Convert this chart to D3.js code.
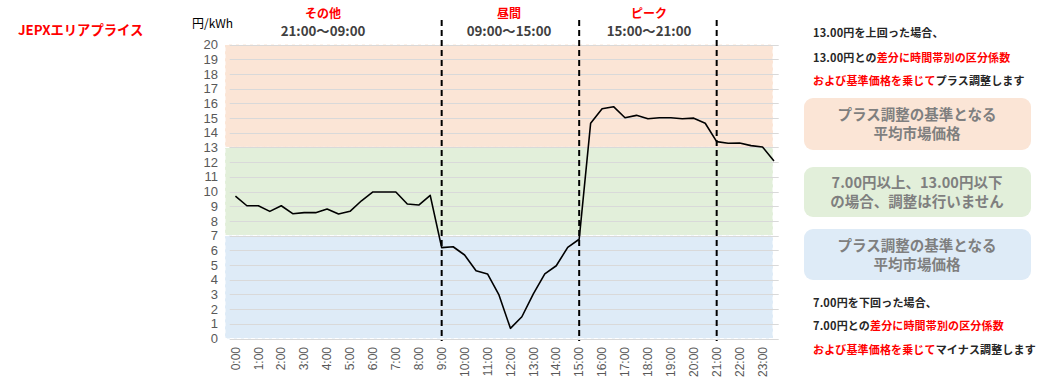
<!DOCTYPE html>
<html><head><meta charset="utf-8">
<script src="https://cdn.jsdelivr.net/npm/d3@7"></script>
<style>
html,body{margin:0;padding:0;background:#fff;}
svg{display:block;}
</style></head>
<body>
<svg id="c" width="1040" height="391"></svg>
<script>
// ---- data ----
const hourLabels = ["0:00","1:00","2:00","3:00","4:00","5:00","6:00","7:00","8:00","9:00","10:00","11:00",
  "12:00","13:00","14:00","15:00","16:00","17:00","18:00","19:00","20:00","21:00","22:00","23:00"];
const slots = hourLabels.flatMap(h => [h, h.replace(":00", ":30")]);
const prices = [9.69, 9.03, 9.03, 8.65, 9.03, 8.49, 8.56, 8.56, 8.81, 8.47, 8.65, 9.37,
  9.97, 9.97, 9.97, 9.15, 9.08, 9.74, 6.18, 6.24, 5.68, 4.61, 4.39, 2.96,
  0.69, 1.48, 3.03, 4.39, 4.95, 6.20, 6.75, 14.64, 15.63, 15.77, 15.02, 15.18,
  14.95, 15.02, 15.02, 14.95, 14.99, 14.64, 13.39, 13.28, 13.30, 13.12, 13.03, 12.07];
const yTickLabels = [0,1,2,3,4,5,6,7,8,9,10,11,12,13,14,15,16,17,18,19,20];
const zoneBounds = [[13, 20], [7, 13], [0, 7]];
const zoneColors = ["#FBE5D6", "#E2EFDA", "#DEEBF7"];
const periodBreaks = ["9:00", "15:00", "21:00"];
const periodNames = ["その他", "昼間", "ピーク"];
const periodTimes = ["21:00〜09:00", "09:00〜15:00", "15:00〜21:00"];
const periodCenters = [323, 509, 649];

// ---- layout ----
const svg = d3.select("#c");
const jp = "'Noto Sans CJK JP', 'Noto Sans', sans-serif";
const lat = "'Liberation Sans', Arial, sans-serif";

const x = d3.scaleBand().domain(slots).range([229.7, 779.7]).paddingInner(0).paddingOuter(0);
const xc = s => x(s) + x.bandwidth() / 2;
const y = d3.scaleLinear().domain([0, 20]).range([338.5, 44.5]);

// zone bands
const bandL = 225, bandR = 773;
svg.append("g").selectAll("rect").data(zoneBounds).join("rect")
  .attr("x", bandL).attr("width", bandR - bandL)
  .attr("y", d => y(d[1])).attr("height", d => y(d[0]) - y(d[1]))
  .attr("fill", (d, i) => zoneColors[i])
  .attr("stroke", "#fff").attr("stroke-width", 1).attr("stroke-dasharray", "4,3");

// gridlines
svg.append("g").selectAll("line").data(yTickLabels).join("line")
  .attr("x1", x.range()[0]).attr("x2", x.range()[1] - 1)
  .attr("y1", d => Math.round(y(d)) + 0.5).attr("y2", d => Math.round(y(d)) + 0.5)
  .attr("stroke", "#D9D9D9").attr("stroke-width", 1.2);

// y axis
const yAxis = d3.axisLeft(y).tickValues(yTickLabels).tickSize(0).tickPadding(0).tickFormat(d3.format("d"));
const gy = svg.append("g").attr("transform", "translate(218,0)").call(yAxis);
gy.select(".domain").remove();
gy.selectAll("text").attr("font-family", lat).attr("font-size", 13).attr("fill", "#595959");

// x axis
const xAxis = d3.axisBottom(x).tickValues(hourLabels).tickSize(0).tickPadding(0);
const gx = svg.append("g").attr("transform", "translate(0,346)").call(xAxis);
gx.select(".domain").remove();
gx.selectAll("text")
  .attr("font-family", lat).attr("font-size", 12).attr("fill", "#595959")
  .attr("transform", "rotate(-90)").attr("text-anchor", "end")
  .attr("x", -1).attr("y", 0).attr("dy", "0.35em");

// period dashed lines
svg.append("g").selectAll("line").data(periodBreaks).join("line")
  .attr("x1", d => xc(d)).attr("x2", d => xc(d))
  .attr("y1", 20).attr("y2", 341)
  .attr("stroke", "#000").attr("stroke-width", 2).attr("stroke-dasharray", "6,4");

// price line
const line = d3.line().x((d, i) => xc(slots[i])).y(d => y(d));
svg.append("path").datum(prices).attr("d", line)
  .attr("fill", "none").attr("stroke", "#000").attr("stroke-width", 1.6).attr("stroke-linejoin", "round");

// title & unit
svg.append("text").attr("x", 18).attr("y", 35).text("JEPXエリアプライス")
  .attr("font-family", jp).attr("font-weight", 700).attr("font-size", 13.3).attr("fill", "#FF0000");
svg.append("text").attr("x", 192).attr("y", 28).text("円/kWh")
  .attr("font-family", jp).attr("font-size", 12).attr("fill", "#000");

// period labels
const pg = svg.append("g").selectAll("g").data(periodNames).join("g");
pg.append("text").attr("x", (d, i) => periodCenters[i]).attr("y", 17.5).text(d => d)
  .attr("text-anchor", "middle").attr("font-family", jp).attr("font-weight", 700)
  .attr("font-size", 12).attr("fill", "#FF0000");
pg.append("text").attr("x", (d, i) => periodCenters[i]).attr("y", 36.3).text((d, i) => periodTimes[i])
  .attr("text-anchor", "middle").attr("font-family", jp).attr("font-weight", 700)
  .attr("font-size", 13.3).attr("fill", "#404040");

// right panel
const dark = "#262626", red = "#FF0000";
function richLine(yy, parts) {
  const t = svg.append("text").attr("x", 813).attr("y", yy)
    .attr("font-family", jp).attr("font-weight", 700).attr("font-size", 11)
    .attr("letter-spacing", "0.15px");
  parts.forEach(p => t.append("tspan").text(p[0]).attr("fill", p[1]));
}
richLine(37, [["13.00円を上回った場合、", dark]]);
richLine(62, [["13.00円との", dark], ["差分に時間帯別の区分係数", red]]);
richLine(85, [["および基準価格を乗じて", red], ["プラス調整します", dark]]);
richLine(307, [["7.00円を下回った場合、", dark]]);
richLine(330, [["7.00円との", dark], ["差分に時間帯別の区分係数", red]]);
richLine(354, [["および基準価格を乗じて", red], ["マイナス調整します", dark]]);

const boxes = [
  {y0: 98, y1: 150, fill: "#FBE5D6", lines: ["プラス調整の基準となる", "平均市場価格"]},
  {y0: 167, y1: 217, fill: "#E2EFDA", lines: ["7.00円以上、13.00円以下", "の場合、調整は行いません"]},
  {y0: 229, y1: 280, fill: "#DEEBF7", lines: ["プラス調整の基準となる", "平均市場価格"]}
];
boxes.forEach(b => {
  svg.append("rect").attr("x", 804).attr("y", b.y0).attr("width", 227).attr("height", b.y1 - b.y0)
    .attr("rx", 9).attr("fill", b.fill);
  const cy = (b.y0 + b.y1) / 2;
  b.lines.forEach((l, i) => {
    svg.append("text").attr("x", 917).attr("y", cy + (i === 0 ? -4 : 15)).text(l)
      .attr("text-anchor", "middle").attr("font-family", jp).attr("font-weight", 700)
      .attr("font-size", 14.5).attr("fill", "#7F7F7F");
  });
});
</script>
</body></html>
